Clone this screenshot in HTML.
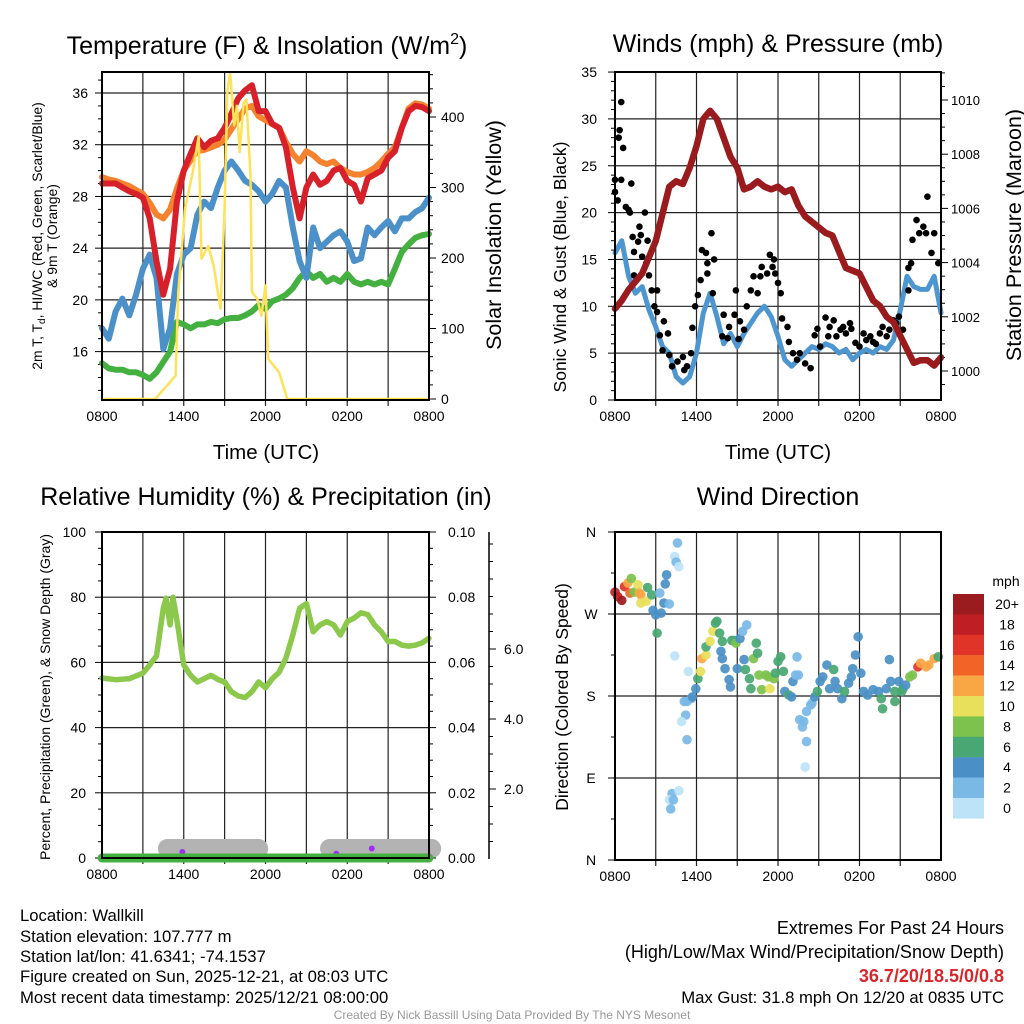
<!DOCTYPE html>
<html><head><meta charset="utf-8"><style>
html,body{margin:0;padding:0;background:#fff}
svg{display:block;font-family:"Liberation Sans",sans-serif}
</style></head><body>
<svg id="c" width="1024" height="1024" viewBox="0 0 1024 1024" xmlns="http://www.w3.org/2000/svg">
<rect width="1024" height="1024" fill="#fff"/>
<g id="g1"></g>
<g id="g2"></g>
<g id="g3"></g>
<g id="g4"></g>
<text x="267" y="54" font-size="25" text-anchor="middle">Temperature (F) &amp; Insolation (W/m<tspan dy="-10" font-size="16">2</tspan><tspan dy="10">)</tspan></text>
<text x="778" y="52" font-size="25" text-anchor="middle">Winds (mph) &amp; Pressure (mb)</text>
<text x="266" y="505" font-size="25" text-anchor="middle">Relative Humidity (%) &amp; Precipitation (in)</text>
<text x="778" y="505" font-size="25" text-anchor="middle">Wind Direction</text>
<text x="266" y="459" font-size="20.5" text-anchor="middle">Time (UTC)</text>
<text x="778" y="459" font-size="20.5" text-anchor="middle">Time (UTC)</text>
<text transform="translate(42,236) rotate(-90)" font-size="13.9" text-anchor="middle">2m T, T<tspan dy="3" font-size="10">d</tspan><tspan dy="-3">, HI/WC (Red, Green, Scarlet/Blue)</tspan></text>
<text transform="translate(57,236) rotate(-90)" font-size="13.9" text-anchor="middle">&amp; 9m T (Orange)</text>
<text transform="translate(501,235) rotate(-90)" font-size="21.5" text-anchor="middle">Solar Insolation (Yellow)</text>
<text transform="translate(566,267) rotate(-90)" font-size="17.5" text-anchor="middle">Sonic Wind &amp; Gust (Blue, Black)</text>
<text transform="translate(1021,235) rotate(-90)" font-size="21.5" text-anchor="middle">Station Pressure (Maroon)</text>
<text transform="translate(50,697) rotate(-90)" font-size="14" text-anchor="middle">Percent, Precipitation (Green), &amp; Snow Depth (Gray)</text>
<text transform="translate(568,697) rotate(-90)" font-size="17.5" text-anchor="middle">Direction (Colored By Speed)</text>
<g font-size="16.7">
<text x="20" y="921">Location: Wallkill</text>
<text x="20" y="942">Station elevation: 107.777 m</text>
<text x="20" y="962">Station lat/lon: 41.6341; -74.1537</text>
<text x="20" y="982">Figure created on Sun, 2025-12-21, at 08:03 UTC</text>
<text x="20" y="1003">Most recent data timestamp: 2025/12/21 08:00:00</text>
</g>
<g text-anchor="end">
<text x="1004" y="934" font-size="18">Extremes For Past 24 Hours</text>
<text x="1004" y="958" font-size="18">(High/Low/Max Wind/Precipitation/Snow Depth)</text>
<text x="1004" y="982" font-size="18" fill="#d7262c" font-weight="bold">36.7/20/18.5/0/0.8</text>
<text x="1004" y="1003" font-size="16.7">Max Gust: 31.8 mph On 12/20 at 0835 UTC</text>
</g>
<text x="512" y="1019" font-size="12" fill="#999" text-anchor="middle">Created By Nick Bassill Using Data Provided By The NYS Mesonet</text>
</svg>
<script>
// ---- data ----
const hours = [0,0.5,1,1.5,2,2.5,3,3.5,4,4.5,5,5.5,6,6.5,7,7.5,8,8.5,9,9.5,10,10.5,11,11.5,12,12.5,13,13.5,14,14.5,15,15.5,16,16.5,17,17.5,18,18.5,19,19.5,20,20.5,21,21.5,22,22.5,23,23.5,24];
const tempT = [29.0,29.0,29,28.7,28.4,28.2,27.9,26.3,23,20.4,22.4,27.6,30,31.3,32.5,31.8,32.3,32.5,33.3,34.4,35.6,36.2,36.6,34.6,34.6,33.6,33.3,31.8,28.7,26.3,28.7,29.7,28.9,29.2,30,30.2,29.2,28.9,27.6,29.4,29.7,30,31,31.5,33.3,34.6,35,34.9,34.6];
const temp9m = [29.5,29.3,29.2,29,28.8,28.5,28.2,27.5,26.6,26.3,27,28.6,30,30.8,31.5,31.6,31.8,32,32.4,33.2,34,34.8,35.0,34.2,33.9,33.6,33.3,32.2,31.3,30.7,31.5,31.2,30.7,30.5,30.7,30.2,29.9,29.7,29.7,29.9,30.2,30.7,31.3,31.8,33.3,34.8,35.2,35.1,34.8];
const heatIndex = [17.8,17,19.1,20.1,18.8,20.4,22.4,23.5,21.7,16.2,17.8,22,23.5,24,26.6,27.6,27.1,28.7,30,30.7,30,29.2,28.9,28.4,27.6,28.2,29.2,28.7,25.6,23,21.7,25.6,24,24.5,25,25.3,24.5,23,23.2,25.6,25,25.6,26.1,25.3,26.3,26.3,26.8,27.1,27.9];
const dewPoint = [15.1,14.7,14.6,14.6,14.4,14.4,14.2,13.9,14.4,15.2,16,18.3,18.1,17.8,18.1,18.1,18.3,18.2,18.5,18.6,18.6,18.8,19.1,19.6,19.3,19.9,20.1,20.4,20.9,21.7,22.2,21.7,22,21.4,21.7,21.4,22,21.4,21.2,21.4,21.2,21.4,21.2,22.4,23.7,24.3,24.8,25,25.1];
const solarHours = [0,3.9,5.0,5.4,5.6,6.1,6.7,7.1,7.3,7.8,8.2,8.7,9.0,9.2,9.4,9.7,9.9,10.1,10.4,10.6,10.9,11.0,11.4,11.7,12.0,12.2,13.0,13.6,24];
const solarVals = [0,0,24,33,152,270,326,373,199,217,189,128,270,435,464,388,416,350,421,425,317,152,142,118,161,57,38,0,0];
const pressure = [1002.3,1002.6,1003.0,1003.3,1003.6,1004.2,1004.8,1005.8,1006.8,1007.0,1006.9,1007.5,1008.3,1009.3,1009.6,1009.3,1008.6,1007.9,1007.5,1006.7,1006.8,1007.0,1006.8,1006.7,1006.8,1006.6,1006.7,1006.1,1005.7,1005.5,1005.3,1005.1,1005.0,1004.4,1003.8,1003.7,1003.6,1003.1,1002.6,1002.4,1002.0,1001.8,1001.3,1000.8,1000.3,1000.4,1000.4,1000.2,1000.5];
const windSpeed = [15.7,17,13.2,11.4,12.1,9.6,7.8,5.7,5.0,2.5,1.8,2.5,5,9.3,11.4,8.9,6.0,7.1,5.7,7.1,8.2,9.3,10.0,8.9,6.8,4.3,3.6,4.3,5,5.7,5.4,6,5.7,5,5.4,4.3,5,5.4,5,5.7,5.4,6.4,9.6,13.2,12.1,11.8,11.8,13.2,9.3];
const gustHours = [0.46,0.34,0.27,0.6,0,0,0.46,1.2,0.2,0.8,1.0,1.1,2.2,1.3,1.8,1.7,1.4,1.9,2.4,2.0,2.3,2.5,1.4,2.7,3.1,2.9,3.1,3.3,3.9,3.6,3.5,4,4.2,4.6,5,5.1,5.3,5.6,5.7,5.9,6.1,6.3,6.4,6.7,6.8,7.1,6.8,7.2,7.3,8,7.9,8.3,8.4,8.8,8.9,9.1,9.2,9.5,9.7,10,10.2,10.5,10.7,10.8,11.2,11.4,11.6,11.7,11.8,12,12.2,12.3,12.7,12.8,13.1,13.4,13.6,14,14.4,14.7,14.9,15.1,15.5,15.7,15.8,16.1,16.3,16.6,16.8,17.0,17.3,17.4,17.7,18.0,18.3,18.5,18.8,19,19.2,19.5,19.7,20,20.2,20.5,20.7,20.9,21.2,21.6,21.6,21.8,21.9,22.2,22.4,22.7,22.9,23,23.3,23.5,23.8];
const gustVals = [31.8,28.8,28,26.9,22.2,23.5,23.5,23.1,21.3,20.6,20.3,20,20,17.4,18.5,16.9,15.8,17.6,17,15.3,14.6,13.3,13.3,11.7,11.7,10,9.4,6.9,7.1,8.4,5.3,4.8,3.6,4.1,4.6,3.2,3.6,5,7.7,10,11.2,12.8,16,15.7,14.6,17.8,13.5,11.4,15,9.1,6.8,6.6,7.8,9.1,11.7,6.5,8.4,7.5,10,11.7,13.2,11.4,13.2,14.2,13.5,15.5,14.2,15,13.5,12.5,11.4,8.7,7.8,6.2,5,4.3,5,3.9,3.4,6.9,7.6,5.7,8.8,6.8,7.8,8.5,6.8,7.5,7.8,7.1,8.2,7.6,6.1,5.7,7.1,6.4,6.8,6.2,6,7.1,7.8,6.8,7.5,8.5,8.2,8.9,7.5,11.7,14.1,14.6,17.1,19.2,17.8,18.5,17.8,21.7,15.7,17.8,14.6];
const rhHours = [0,1,2,3,3.5,4,4.5,4.7,5,5.2,5.5,6,6.5,7,7.5,8,8.5,9,9.5,10,10.5,11,11.5,12,12.5,13,13.5,14,14.5,15,15.5,16,16.5,17,17.5,18,18.5,19,19.5,20,20.5,21,21.5,22,22.5,23,23.5,24];
const rhVals = [55.2,54.7,55,56.7,59.2,62,76.6,79.7,71.5,80,73,59.2,56,54,55,56,54.8,54,51,49.7,49.2,51,54,52.2,55,57,61.3,68.4,76.6,78,69.4,71.5,72.5,71.5,68.4,72.5,73.6,75.2,74.7,71.5,69.4,66.4,66.4,65.3,65,65.3,66,67.4];
const precipHours = [0,24];
const precipVals = [0,0];
const snowHours = [4.8,11.5,null,16.7,24.2];
const snowDepth = [0.3,0.3,null,0.3,0.3];
const markHours = [5.9,17.2,19.8];
const markDepth = [0.2,0.15,0.3];
const dirHours = [0,0.2,0.5,0.7,0.95,1.2,1.1,1.4,1.7,1.8,1.9,1.9,2.3,2.4,2.7,2.8,3.0,3.1,3.3,3.4,3.6,3.8,3.7,4.0,4.4,4.5,4.6,4.7,4.4,5.4,5.1,5.3,5.6,5.2,4.9,5.3,4.2,4,4.3,4.7,4.1,5.7,5.95,6.1,6.3,6.4,6.7,6.7,7.0,7.2,7.4,7.5,7.7,7.8,7.9,8.1,7.9,8.4,8.5,8.6,8.8,8.9,9.0,9.2,9.4,9.7,9.5,9.6,9.9,10.0,10.2,10.4,10.5,10.6,10.8,11.1,11.3,11.4,11.7,11.8,12.0,12.2,12.4,12.5,12.8,13.0,13.1,13.3,13.4,13.5,13.6,13.8,13.9,14.1,14.4,14.5,14.1,14.0,14.7,14.9,15.1,15.3,15.6,15.8,16.1,16.2,16.4,16.7,16.9,17.2,17.4,17.5,17.7,17.9,18.1,18.3,18.6,19.0,19.4,19.6,19.7,19.97,20.2,20.3,20.6,20.6,20.9,21.1,21.2,21.4,21.7,21.9,22.3,22.5,22.9,23.1,23.5,23.8];
const dirVals = [294,289,285,300,304,309,293,294,302,293,291,282,284,299,291,274,269,249,293,271,282,313,303,281,333,327,348,322,224,207,174,174,177,159,152,132,73,66,66,76,56,179,188,199,207,221,225,234,240,251,260,262,249,229,221,210,240,198,190,241,241,238,210,243,251,258,220,209,199,188,221,238,227,203,187,203,201,188,199,205,218,223,207,185,181,179,196,203,223,203,154,146,152,163,170,172,130,102,179,185,196,201,214,188,209,196,188,177,185,194,201,210,225,245,205,185,181,187,185,177,166,188,220,196,185,174,196,185,188,192,201,203,212,216,212,214,221,223];
const dirSpeed = [18,19,20,16,12,8,15,8,10,12,12,10,10,7,6,5,5,6,3,4,4,4,4,3,1,2,2,1,1,1,2,2,2,2,1,3,3,1,2,1,3,4,4,6,10,13,10,7,10,10,7,7,6,5,4,4,6,4,4,7,6,8,4,4,3,3,4,6,6,7,8,6,7,8,8,8,9,10,8,7,7,7,6,4,6,4,4,3,2,2,3,2,3,2,2,2,3,1,4,6,4,4,4,5,6,4,4,4,6,4,4,4,4,4,4,4,4,4,4,6,6,4,4,4,6,6,4,6,6,5,8,8,16,12,12,12,12,7];
const cbLabels = ["20+","18","16","14","12","10","8","6","4","2","0"];
const cbColors = ["#9b1c1f","#bf1e24","#e03428","#f26328","#f9a645","#e8e05a","#7dc24c","#48a772","#4a90c6","#7ab9e6","#bde3f8"];
const timeLabels = ["0800","1400","2000","0200","0800"];
const tempTicks = [16,20,24,28,32,36];
const solarTicks = [0,100,200,300,400];
const windTicks = [0,5,10,15,20,25,30,35];
const presTicks = [1000,1002,1004,1006,1008,1010];
const rhTicks = [0,20,40,60,80,100];
const prTicks = [0,0.02,0.04,0.06,0.08,0.10];
const snowTicks = [2,4,6];
const dirTicks = ["N","E","S","W","N"];

// ---- scales ----
const NS="http://www.w3.org/2000/svg";
const xL=h=>102+h*(327/24), xR=h=>615+h*(326/24);
const yT=t=>93+(36-t)*12.93, yS=s=>399-s*0.705;
const yW=w=>400-w*9.37, yP=p=>371-(p-1000)*27.1;
const yR=r=>858-r*3.26, yPr=p=>858-p*3260, ySn=d=>859-d*35;
const yD=d=>860-d*(328/360);
function mk(parent,tag,attrs){const e=document.createElementNS(NS,tag);for(const k in attrs)e.setAttribute(k,attrs[k]);parent.appendChild(e);return e;}
function txt(parent,x,y,s,size,anchor){const e=mk(parent,'text',{x:x,y:y,'font-size':size,'text-anchor':anchor});e.textContent=s;return e;}
function pathD(xs,ys,fx,fy){let d='',pen=false;for(let i=0;i<xs.length;i++){if(xs[i]===null||ys[i]===null){pen=false;continue;}d+=(pen?'L':'M')+fx(xs[i]).toFixed(1)+','+fy(ys[i]).toFixed(1);pen=true;}return d;}
function frame(g,x0,x1,y0,y1,fx){
  for(let h=3;h<24;h+=3){const l=mk(g,'line',{x1:fx(h),x2:fx(h),y1:y0,y2:y1+6,stroke:'#222','stroke-width':1.2});
    
    }
  for(let i=0;i<5;i++){const t=txt(g,fx(i*6),y1+21,timeLabels[i],14,'middle');
    
    }
}
function box(g,x0,x1,y0,y1){const r=mk(g,'rect',{x:x0,y:y0,width:x1-x0,height:y1-y0,fill:'none',stroke:'#000','stroke-width':2});
  
  }
function hgrid(g,x0,x1,y){const l=mk(g,'line',{x1:x0,x2:x1,y1:y,y2:y,stroke:'#222','stroke-width':1.2});
  
  }
function tick(g,x,y,len){mk(g,'line',{x1:x,x2:x+len,y1:y,y2:y,stroke:'#000','stroke-width':1});}
function line(g,xs,ys,fx,fy,color,w,name){const p=mk(g,'path',{d:pathD(xs,ys,fx,fy),fill:'none',stroke:color,'stroke-width':w,'stroke-linejoin':'round','stroke-linecap':'round'});
  
  return p;}

// ---- panel 1 ----
const g1=document.getElementById('g1');
frame(g1,102,429,72,400,xL);
tempTicks.forEach(t=>{hgrid(g1,102,429,yT(t));const e=txt(g1,88,yT(t)+5,String(t),14,'end');
  
  });
for(let t=13;t<=37;t++)tick(g1,102,yT(t),t%4===0?-7:-4);
solarTicks.forEach(s=>{const e=txt(g1,441,yS(s)+5,String(s),14,'start');
  
  });
for(let s=0;s<=460;s+=20)tick(g1,429,yS(s),s%100===0?7:4);
line(g1,hours,dewPoint,xL,yT,'#43b040',6,'dewpoint-line');
line(g1,hours,heatIndex,xL,yT,'#4b90c8',6,'windchill-line');
line(g1,hours,temp9m,xL,yT,'#f5822e',6,'temp-9m-line');
line(g1,hours,tempT,xL,yT,'#d7202a',6,'temp-2m-line');
line(g1,solarHours,solarVals,xL,yS,'#fde25a',2.5,'insolation-line');
box(g1,102,429,72,400);

// ---- panel 2 ----
const g2=document.getElementById('g2');
frame(g2,615,941,72,400,xR);
windTicks.forEach(w=>{if(w>0&&w<35)hgrid(g2,615,941,yW(w));const e=txt(g2,597,yW(w)+5,String(w),14,'end');
  
  });
for(let w=0;w<=35;w++)tick(g2,615,yW(w),w%5===0?-7:-4);
presTicks.forEach(p=>{const e=txt(g2,951,yP(p)+5,String(p),13,'start');
  
  });
for(let p=999.5;p<=1011;p+=0.5)tick(g2,941,yP(p),(Math.abs(p%2)<0.01)?7:4);
line(g2,hours,windSpeed,xR,yW,'#4e96d0',5,'sonic-wind-line');
gustHours.forEach((h,i)=>{const c=mk(g2,'circle',{cx:xR(h),cy:yW(gustVals[i]),r:3.3,fill:'#000'});
  
  });
line(g2,hours,pressure,xR,yP,'#9a1b1e',6.5,'pressure-line');
box(g2,615,941,72,400);

// ---- panel 3 ----
const g3=document.getElementById('g3');
frame(g3,102,429,532,858,xL);
rhTicks.forEach(r=>{if(r>0&&r<100)hgrid(g3,102,429,yR(r));const e=txt(g3,86,yR(r)+5,String(r),14,'end');
  
  });
for(let r=0;r<=100;r+=5)tick(g3,102,yR(r),r%20===0?-7:-4);
prTicks.forEach(p=>{const e=txt(g3,448,yPr(p)+5,p.toFixed(2),14,'start');
  
  });
for(let p=0;p<=0.1001;p+=0.005)tick(g3,429,yPr(p),Math.round(p*1000)%20===0?7:4);
mk(g3,'line',{x1:489,x2:489,y1:532,y2:859,stroke:'#000','stroke-width':1.5});
snowTicks.forEach(s=>{tick(g3,489,ySn(s),7);const e=txt(g3,504,ySn(s)+5,s.toFixed(1),14,'start');
  
  });
for(let s=0.5;s<=9;s+=0.5)tick(g3,489,ySn(s),4);
line(g3,rhHours,rhVals,xL,yR,'#8cc84b',5.5,'rh-line');
line(g3,snowHours,snowDepth,xL,ySn,'#b3b3b3',19,'snow-depth-line');
markHours.forEach((h,i)=>{const c=mk(g3,'circle',{cx:xL(h),cy:ySn(markDepth[i]),r:3,fill:'#9b30f0'});
  
  });
line(g3,precipHours,precipVals,xL,yPr,'#43b040',9,'precip-line');
box(g3,102,429,532,858);

// ---- panel 4 ----
const g4=document.getElementById('g4');
frame(g4,615,941,532,860,xR);
dirTicks.forEach((d,i)=>{if(i>0&&i<4)hgrid(g4,615,941,yD(i*90));const e=txt(g4,591,yD(i*90)+5,d,14,'middle');
  
  });
for(let d=0;d<=360;d+=45)tick(g4,615,yD(d),d%90===0?-7:-4);
function spColor(s){let b=Math.min(10,Math.floor(s/2));return cbColors[10-b];}
dirHours.forEach((h,i)=>{const c=mk(g4,'circle',{cx:xR(h),cy:yD(dirVals[i]),r:4.8,fill:spColor(dirSpeed[i]),'fill-opacity':0.92});
  
  });
box(g4,615,941,532,860);
txt(g4,1006,586,'mph',14,'middle');
cbColors.forEach((c,i)=>{const r=mk(g4,'rect',{x:953,y:594+i*20.4,width:31,height:20.6,fill:c});
  
  
  const e=txt(g4,1007,609+i*20.4,cbLabels[i],14,'middle');
  
  });
</script>
</body></html>
